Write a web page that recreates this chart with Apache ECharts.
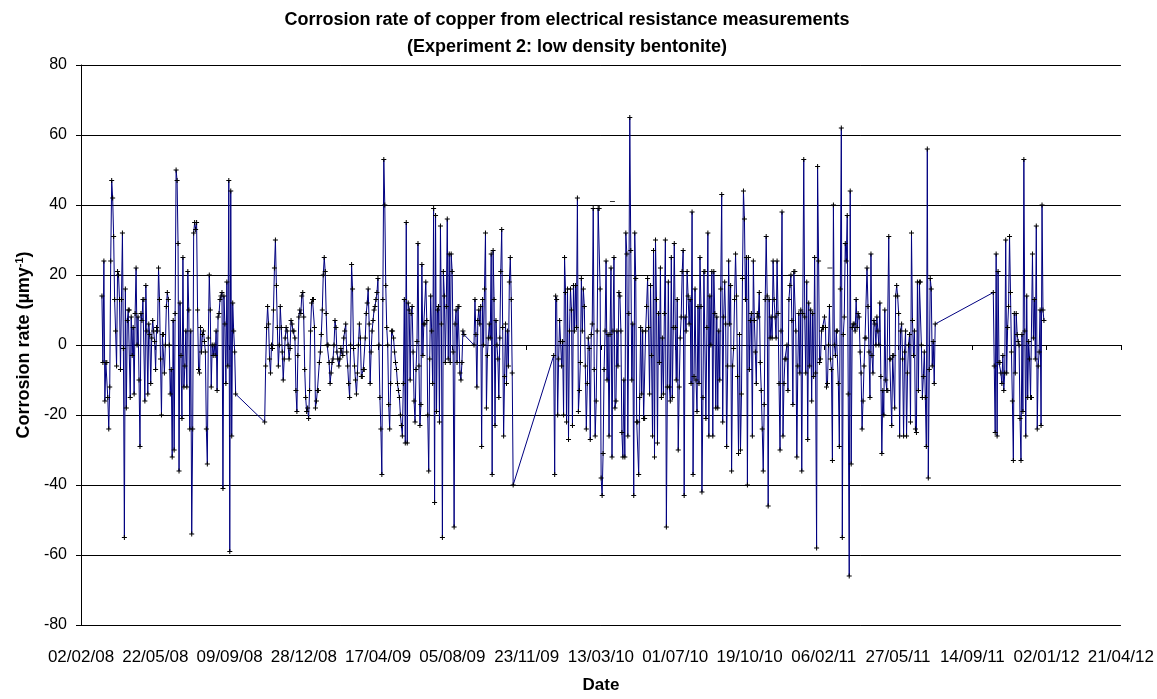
<!DOCTYPE html>
<html>
<head>
<meta charset="utf-8">
<script src="https://cdn.jsdelivr.net/npm/echarts@6/dist/echarts.min.js"></script>
<style>
html, body { margin: 0; padding: 0; background: #fff; }
#chart { width: 1157px; height: 699px; }
</style>
</head>
<body>
<div id="chart"></div>
<script>
// x axis tick labels, one every 110 days from 02/02/08
var xTickLabels = ['02/02/08', '22/05/08', '09/09/08', '28/12/08', '17/04/09', '05/08/09', '23/11/09',
	'13/03/10', '01/07/10', '19/10/10', '06/02/11', '27/05/11', '14/09/11', '02/01/12', '21/04/12'];

// measurement runs: first and last date of each run
var runStart = ['2008-03-04', '2008-10-31', '2009-09-06', '2010-01-02', '2011-10-15'];
var runEnd   = ['2008-09-18', '2009-08-22', '2009-11-03', '2011-07-21', '2011-12-29'];

// corrosion rate (µm/y)
var runA = [14, -5, 24, -16, -5, -5, -15, -24, -12, 24, 47, 42, 31, 13, 4, -6, 21, 20, 13, -7, 13, 32, -1, -55,
	16, -18, 7, 10, 10, -15, 8, -3, 5, -14, 9, 22, 0, 8, -10, -29, 9, 7, 13, 13, -16, 17, 4, -14, 6, 3, -11, 2,
	7, 4, 1, -7, 5, 4, 22, 13, -4, -20, 3, 3, -8, 0, 11, 15, 13, 0, -14, -7, -32, 7, -30, 9, 50, 47, 29, -36,
	12, -3, -21, 25, -12, -6, 4, -12, 21, 10, -24, 4, -54, -24, 32, 35, 33,
	35, 10, -7, -8, 5, -2, 3, 4, 1, -2, -24, -34, 2, 20, 10, -12, 0, -3, 0, -3, 4, -13, 8, 9, 13, 14, 15, -41,
	14, 6, -11, 18, -6, 47, -59, 44, -26, 12, 4, -2, -14];

var runB = [-22, -6, 5, 11, 6, -4, -8, 0, -1, 10, 22, 30, 17, 5, -6, 0, 11, 5, -2, -10, -4, 2, 5, 4, 0, -4, -1,
	7, 6, 4, 4, 2, -13, -19, -3, 8, 10,
	9, 14, 15, 8, -7, -15, -19, -18, -21, -13, 4, 12, 13, 13, 5, -18, -16, -13, -13, -5, -2, 3, 10, 20, 25, 21,
	9, 0, 0, -5, -11, -8, -5, -4, 0, 7, 5, -2, -4, -6, -4, -1, -2, -3, 2, 4, 6, -2, -6, -11, -15, 0, 23, 16, -1,
	-6, -10, -14, -8, 0, 6, 2, -9, -9, -7, -7, 2, 9, 12, 16, 6, -11, -2, 4, 7, 10, 11, 13, 15, 19, 0, -15, -24,
	-37, 13, 53, 40, 17, 5, 0, -17, -24, -11, 4, 4, 2, -2, -5, -7, -11, -13, -15, -20, -23, -26, -11, 13,
	-28, 35, -28, 12, 10, -10, 9, 11, -2, -16, -22, -7, 1, 29, -6, -23, -17, 23, -3, 6, 6, 18, 7, -20, -36, -4,
	14, 4, -11, 39, -45, 37, -19, 10, 11, -22, 34, 6, -55, 21, 14, -5, 11, 36, -4, 26, -5, 26, 21, -2, -52, 6,
	10, -5, 11, 11, -8, -10, -5, 4, 3];

var runC = [0, 13, 3, -12, 7, 10, 6, 11, -29, 13, 0, 16, 32, -18, -3, 2, 6, 2, 26, -37, 27, 13, -23, 7, 0, -4,
	-15, 2, 21, 33, 5, -26, -9, 6, -11, 4, -6, 18, 25, 13, -8, -40];

var runD = [-3, -37, 14, 13, -20, -4, 7, 1, -6, 1, -20, 25, 15, -22, 16, -27, 4, 16, 10, -23, 17, 4, 17, 5, 42,
	-19, -13, -5, 19, 4, 16, 11, -6, -24, -11, 2, -1, -27, 3, 6, 39, -7, -26, -16, 4, 39, 39, 16, -38, -43, -31,
	-7, 4, 24, -10, 3, -26, 3, 22,
	-32, 4, 25, -18, -16, 4, -6, 15, 14, 4, -25, -32, -10, -32, 32, 26, -26, 9, 65, 27, -10, 6, -43, 32, 19, -22,
	-22, -37, -15, 5, -14, 4, -21, -21, 4, 11, 19, 5, -14, 17, -3, -26, 27, -32, 30, 13, -28, 9, -5, 22, -15, 2,
	-14, 9, 30, -52, -12, 18, -12, -16, 25, -15, 5, 29, 5, -10, 13, -30, -12, 2, 8, 21, 27, -43, 8, 4, 21, 14,
	6, 13, -11, 38, -37, -9, 16, -10, -19, 11, -11, 25, 11, -42, -15, 21, 21, -21, 5, 32, -26, 14, 0, 21, -26,
	21, 9, -18,
	8, -18, 4, -10, 16, 43, -22, 8, 18, 6, -29, -6, 24, 6, 17, -36, -6, -1, 13, 26, 14, -9, -31, 3, -30, -14, 19,
	44, 36, 13, 25, -40, 25, -7, 7, 9, -26, 24, 7, -2, -11, 9, 8, 15, -5, -13, -24, -36, -17, 13, 31, 14, -46,
	13, 2, 8, 2, 24, 13, 8, 2, 24, 9, -11, -30, 4, 38, -26, -11, -4, -4, 0, -13, 13, 17, 20, 7, -17, 21, 21, 4,
	-32, -6, 9, -8, 10, -36, 9, 53, 8, -8, 18, -27, 12, -6, 10, -16, 9, -9, 25, -8, -58, 51, 24, -5,
	-4, 4, 5, 5, 8, 5, -12, -11, 0, 11, -4, -7, -33, 40, 0, -3, 4, 4, -11, -29, 16, 62, -55, 3, 8, 29, 24, 37,
	-14, -66, 44, -34, 5, 6, 6, 4, 13, 5, 9, 8, -2, -8, -24, -16, -6, 2, 2, 22, 11, -2, -15, 26, -3, -8, 7, 6, 0,
	8, 4, 0, 12, -9, -31, -13, -20, 10, -10, -13, -13, 31, -4, -4, -23, -3, -3, -18, 14, 17, 14, 9, -26, 4, 6,
	-4, -26, -2, 4, -26, -8, 0, 3, -22, 32, 7, -3, 4, -24, -25, 18, -13, 18, 18, 0, -15, -9,
	-2, -15, -29, 56, -38, -7, 19, 16, -6, 1, -11, 6];

var runE = [15, -6, -25, 26, -26, 21, -5, -5, -8, -11, -3, -13, -8, 30, -8, 5, 11, 31, 15, -2, -16, -33, 9, -8,
	9, 3, 1, 0, -21, -33, 3, -19, 53, 4, -26, 14, -15, 1, -4, -15, -15, 26, 2, 13, -4, 34, -24, -6, -2, 10, -23,
	40, 10, 7];

// lone readings drawn without a line
var loneDates = ['2010-03-30', '2011-02-15'];
var loneValues = [41, 22];

var runs = [runA, runB, runC, runD, runE];
var DAY0 = Date.UTC(2008, 1, 2);

function dayOf(s) {
	var p = s.split('-');
	return (Date.UTC(+p[0], +p[1] - 1, +p[2]) - DAY0) / 864e5;
}

// 把每一段的读数排到日期上
var lineData = [];
for (var r = 0; r < runs.length; r++) {
	var s = dayOf(runStart[r]), e = dayOf(runEnd[r]), vals = runs[r];
	for (var i = 0; i < vals.length; i++) {
		lineData.push([s + (e - s) * i / (vals.length - 1), vals[i]]);
	}
}
var loneData = [];
for (var k = 0; k < loneDates.length; k++) {
	loneData.push([dayOf(loneDates[k]), loneValues[k]]);
}

var font = '"Liberation Sans", Arial, sans-serif';
var plus = 'path://M0,2H5V3H0Z M2,0H3V5H2Z';

var option = {
	animation: false,
	backgroundColor: '#fff',
	title: {
		text: 'Corrosion rate of copper from electrical resistance measurements\n(Experiment 2: low density bentonite)',
		left: 562,
		textAlign: 'center',
		top: 2,
		textStyle: { fontFamily: font, fontSize: 18, fontWeight: 'bold', color: '#000', lineHeight: 27 }
	},
	grid: { left: 81, right: 26, top: 65, bottom: 69 },
	xAxis: {
		type: 'value',
		min: 0,
		max: 1540,
		interval: 110,
		name: 'Date',
		nameLocation: 'middle',
		nameGap: 52,
		nameTextStyle: { fontFamily: font, fontSize: 17, fontWeight: 'bold', color: '#000' },
		axisLine: { lineStyle: { color: '#000', width: 1 } },
		axisTick: { show: true, length: 5, lineStyle: { color: '#000' } },
		splitLine: { show: false },
		axisLabel: {
			fontFamily: font, fontSize: 17, color: '#000', margin: 24,
			formatter: function(v) { return xTickLabels[Math.round(v / 110)]; }
		}
	},
	yAxis: {
		type: 'value',
		min: -80,
		max: 80,
		interval: 20,
		name: '{b|Corrosion rate (µmy}{s|-1}{b|)}',
		nameLocation: 'middle',
		nameGap: 39,
		nameTextStyle: {
			rich: {
				b: { fontFamily: font, fontSize: 18, fontWeight: 'bold', color: '#000' },
				s: { fontFamily: font, fontSize: 11, fontWeight: 'bold', color: '#000', verticalAlign: 'top', padding: [0, 0, 8, 0] }
			}
		},
		axisLine: { show: true, lineStyle: { color: '#000', width: 1 } },
		axisTick: { show: true, length: 5, lineStyle: { color: '#000' } },
		splitLine: { show: true, lineStyle: { color: '#000', width: 1 } },
		axisLabel: { fontFamily: font, fontSize: 16, color: '#000', margin: 14 }
	},
	series: [{
		type: 'line',
		data: lineData,
		showAllSymbol: true,
		symbol: plus,
		symbolSize: 5,
		itemStyle: { color: '#000' },
		lineStyle: { color: '#000080', width: 1 },
		z: 3
	}, {
		type: 'scatter',
		data: loneData,
		symbol: 'rect',
		symbolSize: [5, 1],
		itemStyle: { color: '#000' }
	}]
};

var myChart = echarts.init(document.getElementById('chart'), null, { renderer: 'canvas' });
myChart.setOption(option);
</script>
</body>
</html>
